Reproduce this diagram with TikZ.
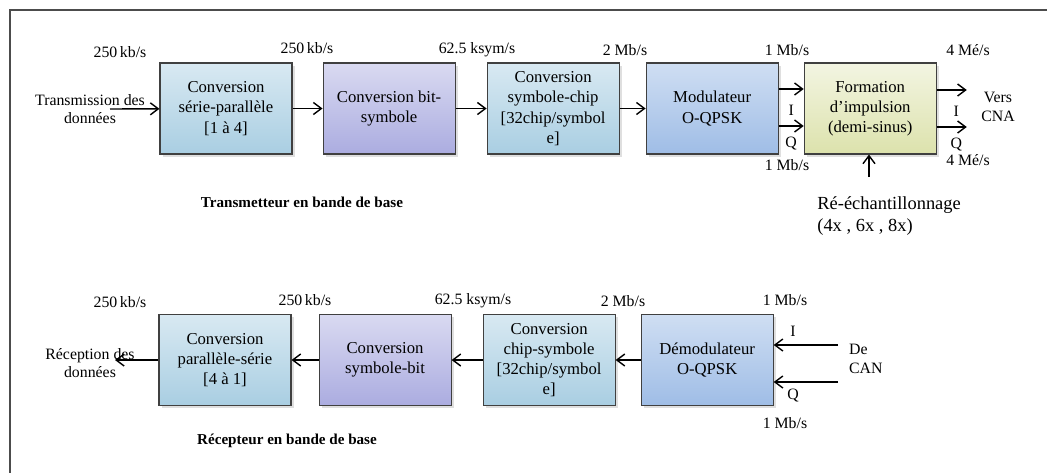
\documentclass[tikz,border=0pt]{standalone}
\usepackage{fontspec}
\setmainfont{Liberation Serif}
\usetikzlibrary{positioning,shadows,arrows.meta}

\definecolor{convblue}{HTML}{A9CEE2}
\definecolor{convviolet}{HTML}{ABACE0}
\definecolor{modblue}{HTML}{9FBDE6}
\definecolor{pulseyellow}{HTML}{DCE2AC}

\begin{document}
\begin{tikzpicture}[
    convbox/.style={rectangle, minimum width=2.64cm, minimum height=1.82cm, align=center, draw=black!75, semithick, top color=convblue!45, bottom color=convblue, drop shadow={opacity=0.25, shadow xshift=0.5mm, shadow yshift=-0.5mm}, font=\fontsize{9.5}{11.5}\selectfont},
    violbox/.style={convbox, top color=convviolet!45, bottom color=convviolet},
    modbox/.style={convbox, top color=modblue!50, bottom color=modblue},
    pulsebox/.style={convbox, top color=pulseyellow!35, bottom color=pulseyellow},
    rate/.style={font=\fontsize{9}{11}\selectfont, inner sep=1pt},
    side/.style={align=center, font=\fontsize{9}{10.5}\selectfont, inner sep=1pt},
    iq/.style={font=\fontsize{9}{11}\selectfont, inner sep=1pt},
    caption/.style={font=\fontsize{8.6}{10}\selectfont\bfseries},
    arrow/.style={thick,-{Straight Barb[length=1.6mm,width=2.4mm]}}
]
\useasboundingbox (0,0) rectangle (20.94,-9.46);

% Frame
\draw[gray!60!black, line width=0.8pt] (20.94,-0.2) -- (0.2,-0.2) -- (0.2,-9.46);

% Transmitter chain
\node[convbox] (sp) at (4.52,-2.17) {Conversion\\série-parallèle\\{[1 à 4]}};
\node[violbox, right=0.6cm of sp] (bs) {Conversion bit-\\symbole};
\node[convbox, right=0.62cm of bs] (sc) {Conversion\\symbole-chip\\{[32chip/symbol}\\e]};
\node[modbox, right=0.52cm of sc] (mod) {Modulateur\\O-QPSK};
\node[pulsebox, right=0.5cm of mod] (pulse) {Formation\\d’impulsion\\(demi-sinus)};

% Transmitter rates
\node[rate] (trA) at (2.4,-1.04) {250\,kb/s};
\node[rate] (trB) at (6.14,-0.96) {250\,kb/s};
\node[rate] (trC) at (9.54,-1.0) {62.5 ksym/s};
\node[rate] (trD) at (12.5,-1.0) {2 Mb/s};
\node[rate] (trE) at (15.74,-1.0) {1 Mb/s};
\node[rate] (trF) at (19.36,-1.0) {4 Mé/s};
\node[rate] (trG) at (15.74,-3.3) {1 Mb/s};
\node[rate] (trH) at (19.36,-3.2) {4 Mé/s};

% Input / outputs
\node[side] (txin) at (1.8,-2.18) {Transmission des\\données};
\coordinate (in) at (2.2,-2.18);
\coordinate (outI) at ([shift={(0.6,0.37)}]pulse.east);
\coordinate (outQ) at ([shift={(0.6,-0.37)}]pulse.east);
\node[side] (cna) at (19.96,-2.14) {Vers\\CNA};
\coordinate (rs) at (17.38,-3.54);
\node[anchor=west, align=left, inner sep=0, font=\fontsize{10.5}{12.5}\selectfont] (rslbl) at (16.34,-4.32) {Ré-échantillonnage\\(4x , 6x , 8x)};

\node[caption] (txcap) at (6.04,-4.04) {Transmetteur en bande de base};

% Transmitter arrows
\draw[arrow] (in) -- (sp);
\draw[arrow] (sp) -- (bs);
\draw[arrow] (bs) -- (sc);
\draw[arrow] (sc) -- (mod);
\draw[arrow] ([yshift=0.39cm]mod.east) -- node[iq, below=0.27cm] {I} ([yshift=0.39cm]pulse.west);
\draw[arrow] ([yshift=-0.35cm]mod.east) -- node[iq, below=0.18cm] {Q} ([yshift=-0.35cm]pulse.west);
\draw[arrow] (outI -| pulse.east) -- node[iq, pos=0.65, below=0.27cm] {I} (outI);
\draw[arrow] (outQ -| pulse.east) -- node[iq, pos=0.65, below=0.18cm] {Q} (outQ);
\draw[arrow] (rs) -- (rs |- pulse.south);

% Receiver chain
\node[convbox] (ps) at (4.5,-7.2) {Conversion\\parallèle-série\\{[4 à 1]}};
\node[violbox, right=0.54cm of ps] (sb) {Conversion\\symbole-bit};
\node[convbox, right=0.62cm of sb] (cs) {Conversion\\chip-symbole\\{[32chip/symbol}\\e]};
\node[modbox, right=0.5cm of cs] (demod) {Démodulateur\\O-QPSK};

% Receiver rates
\node[rate] (rrA) at (2.4,-6.04) {250\,kb/s};
\node[rate] (rrB) at (6.1,-6.0) {250\,kb/s};
\node[rate] (rrC) at (9.46,-6.02) {62.5 ksym/s};
\node[rate] (rrD) at (12.46,-6.02) {2 Mb/s};
\node[rate] (rrE) at (15.7,-6.0) {1 Mb/s};
\node[rate] (rrF) at (15.7,-8.46) {1 Mb/s};

% Input / output
\node[side] (rxout) at (1.8,-7.26) {Réception des\\données};
\coordinate (out) at (2.3,-7.2);
\coordinate (deI) at (16.76,-6.9);
\coordinate (deQ) at (16.76,-7.64);
\node[side, anchor=west, align=left] (can) at (16.94,-7.18) {De\\CAN};

\node[caption] (rxcap) at (5.74,-8.82) {Récepteur en bande de base};

% Receiver arrows
\draw[arrow] (demod) -- (cs);
\draw[arrow] (cs) -- (sb);
\draw[arrow] (sb) -- (ps);
\draw[arrow] (ps) -- (out);
\draw[arrow] (deI) -- node[iq, pos=0.7, above=0.12cm] {I} (deI -| demod.east);
\draw[arrow] (deQ) -- node[iq, pos=0.7, below=0.1cm] {Q} (deQ -| demod.east);

\end{tikzpicture}
\end{document}
